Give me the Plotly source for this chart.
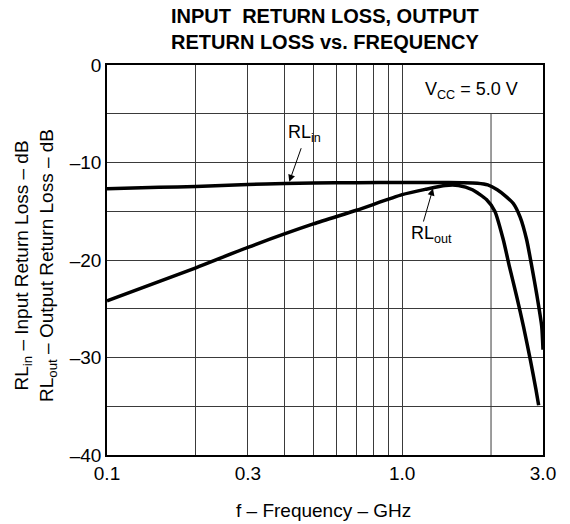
import math
import plotly.graph_objects as go

# ---- data ----
freq_in = [0.1, 0.15, 0.2, 0.3, 0.4, 0.5, 0.7, 1.0, 1.3, 1.6, 1.8, 1.95, 2.1, 2.25, 2.38, 2.51, 2.64, 2.75, 2.86, 2.97, 3.0]
rl_in = [-12.7, -12.55, -12.45, -12.25, -12.15, -12.1, -12.07, -12.05, -12.05, -12.07, -12.12, -12.3, -12.8, -13.5, -14.2, -15.6, -17.9, -20.7, -23.6, -26.8, -29.2]

freq_out = [0.1, 0.2, 0.3, 0.5, 0.7, 1.0, 1.2, 1.4, 1.55, 1.73, 1.93, 2.06, 2.2, 2.31, 2.45, 2.58, 2.72, 2.84, 2.9]
rl_out = [-24.2, -20.8, -18.7, -16.3, -14.9, -13.3, -12.75, -12.35, -12.35, -12.8, -13.8, -15.0, -17.9, -20.7, -23.9, -26.9, -30.3, -33.3, -34.9]

x_tickvals = [0.1, 0.2, 0.3, 0.4, 0.5, 0.6, 0.7, 0.8, 0.9, 1.0, 3.0]
x_ticktext = ["0.1", "", "0.3", "", "", "", "", "", "", "1.0", "3.0"]
x_partial_grid = 2.0          # gridline hidden behind the Vcc label
y_tickvals = [0, -5, -10, -15, -20, -25, -30, -35, -40]
y_ticktext = ["0", "", "\u201310", "", "\u201320", "", "\u201330", "", "\u201340"]

X_MIN, X_MAX = 0.1, 3.0
FONT = "Liberation Sans, Arial, Helvetica, sans-serif"
GRID = "#3a3a3a"

fig = go.Figure()
fig.add_trace(go.Scatter(x=freq_in, y=rl_in, mode="lines",
                         line=dict(color="black", width=3.5, shape="spline", smoothing=0.6),
                         showlegend=False, hoverinfo="skip"))
fig.add_trace(go.Scatter(x=freq_out, y=rl_out, mode="lines",
                         line=dict(color="black", width=3.5, shape="spline", smoothing=0.6),
                         showlegend=False, hoverinfo="skip"))

# page body has an 8px margin, so the figure is 8px smaller than the window
fig.update_layout(
    width=562, height=516,
    margin=dict(l=99, r=27, t=57, b=69),
    paper_bgcolor="white", plot_bgcolor="white",
    font=dict(family=FONT, size=19, color="black"),
    xaxis=dict(type="log", range=[math.log10(X_MIN), math.log10(X_MAX)],
               tickvals=x_tickvals, ticktext=x_ticktext,
               showgrid=True, gridcolor=GRID, gridwidth=1,
               showline=True, linecolor="black", linewidth=1.5, mirror=True,
               ticks="", zeroline=False, tickfont=dict(size=19)),
    yaxis=dict(range=[-40, 0], tickvals=y_tickvals, ticktext=y_ticktext,
               showgrid=True, gridcolor=GRID, gridwidth=1,
               showline=True, linecolor="black", linewidth=1.5, mirror=True,
               ticks="", zeroline=False, tickfont=dict(size=19)),
)

# 2.0 GHz gridline, stopping below the Vcc label cell
gx = math.log10(x_partial_grid / X_MIN) / math.log10(X_MAX / X_MIN)
fig.add_shape(type="line", xref="x domain", yref="y", x0=gx, x1=gx, y0=-40, y1=-5,
              line=dict(color=GRID, width=1), layer="below")

fig.add_annotation(text="V<sub>CC</sub> = 5.0 V", xref="x", yref="y",
                   x=0.2365, y=-2.6, xanchor="center", yanchor="middle",
                   showarrow=False, font=dict(size=18))

# title
fig.add_annotation(text="<b>INPUT  RETURN LOSS, OUTPUT<br>RETURN LOSS vs. FREQUENCY</b>",
                   xref="paper", yref="paper", x=0.5, y=1 + (65 - 29) / 390,
                   xanchor="center", yanchor="middle", showarrow=False,
                   font=dict(size=20))

# curve labels
fig.add_annotation(text="RL<sub>in</sub>", xref="x", yref="y", x=-0.3293, y=-7.0,
                   showarrow=False, font=dict(size=18))
fig.add_annotation(text="RL<sub>out</sub>", xref="x", yref="y", x=0.101, y=-17.4,
                   showarrow=False, font=dict(size=18))
# arrows
fig.add_annotation(text="", x=math.log10(0.4146), y=-11.97, xref="x", yref="y",
                   showarrow=True, ax=12.4, ay=-35, arrowhead=2, arrowsize=1.4,
                   arrowwidth=1, arrowcolor="black")
fig.add_annotation(text="", x=math.log10(1.272), y=-12.67, xref="x", yref="y",
                   showarrow=True, ax=-10, ay=34.5, arrowhead=2, arrowsize=1.4,
                   arrowwidth=1, arrowcolor="black")

# axis titles
fig.add_annotation(text="f \u2013 Frequency \u2013 GHz", xref="paper", yref="paper",
                   x=(323 - 107) / 436, y=1 - (510 - 65) / 390,
                   xanchor="center", yanchor="middle", showarrow=False,
                   font=dict(size=19))
fig.add_annotation(text="RL<sub>in</sub> \u2013 Input Return Loss \u2013 dB<br>RL<sub>out</sub> \u2013 Output Return Loss \u2013 dB",
                   xref="paper", yref="paper", x=-(107 - 35) / 436, y=1 - (266 - 65) / 390,
                   xanchor="center", yanchor="middle", textangle=-90,
                   showarrow=False, font=dict(size=19))

fig.write_html("out.html")
